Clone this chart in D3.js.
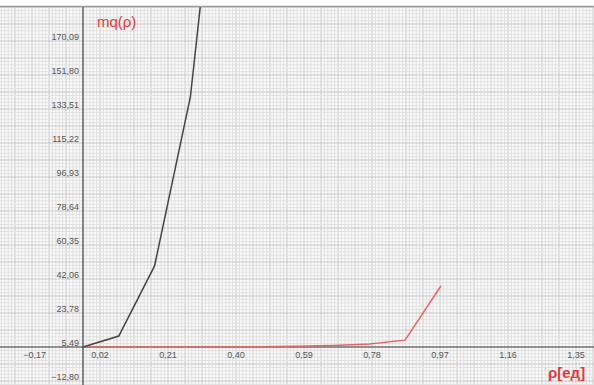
<!DOCTYPE html>
<html>
<head>
<meta charset="utf-8">
<script src="https://cdn.jsdelivr.net/npm/d3@7"></script>
<style>
  html, body { margin: 0; padding: 0; background: #fff; }
  svg { display: block; }
</style>
</head>
<body>
<div id="content"></div>
<script>
// datos
const xTicks = [-0.17, 0.02, 0.21, 0.40, 0.59, 0.78, 0.97, 1.16, 1.35];
const yTicks = [-12.80, 5.49, 23.78, 42.06, 60.35, 78.64, 96.93, 115.22, 133.51, 151.80, 170.09];
const rho = [0, 0.1, 0.2, 0.3, 0.4];
const mqBlack = [0, 5.9, 43.6, 134.5, 310];
const rhoRed = [0, 0.1, 0.2, 0.3, 0.4, 0.5, 0.6, 0.7, 0.8, 0.9, 1.0];
const mqRed = [0, 0, 0, 0.05, 0.1, 0.2, 0.4, 0.8, 1.6, 3.7, 32.8];

const width = 594, height = 385;
const plotTop = 6;

const locale = d3.formatLocale({ decimal: ',', thousands: ' ', grouping: [3], currency: ['', ''] });
const fmt = locale.format('.2f');

const x = d3.scaleLinear().domain([0, 0.19]).range([83, 151]);
const y = d3.scaleLinear().domain([0, 18.29]).range([347, 313]);

const svg = d3.select('#content')
    .append('svg')
    .attr('width', width)
    .attr('height', height);

svg.append('defs').append('clipPath')
    .attr('id', 'plot')
    .append('rect')
    .attr('x', 0).attr('y', plotTop)
    .attr('width', width).attr('height', height - plotTop);

const plot = svg.append('g').attr('clip-path', 'url(#plot)');

plot.append('rect')
    .attr('x', 0).attr('y', plotTop)
    .attr('width', width).attr('height', height - plotTop)
    .attr('fill', '#fbfbfb');

// rejilla fina
const xStep = 0.19 / 20;
const xGrid = d3.range(-60, 200).map(i => i * xStep);
const yStep = 18.29 / 10;
const yGrid = d3.range(-40, 200).map(i => i * yStep);

plot.append('g')
    .selectAll('line')
    .data(xGrid)
    .enter()
    .append('line')
    .attr('x1', d => x(d)).attr('x2', d => x(d))
    .attr('y1', plotTop).attr('y2', height)
    .attr('stroke', (d, i) => i % 5 === 0 ? '#c8c8c8' : '#e0e0e0')
    .attr('stroke-width', 1);

plot.append('g')
    .selectAll('line')
    .data(yGrid)
    .enter()
    .append('line')
    .attr('y1', d => y(d)).attr('y2', d => y(d))
    .attr('x1', 0).attr('x2', width)
    .attr('stroke', (d, i) => i % 5 === 0 ? '#c8c8c8' : '#e0e0e0')
    .attr('stroke-width', 1);

// borde superior
svg.append('line')
    .attr('x1', 0).attr('x2', width)
    .attr('y1', plotTop + 0.5).attr('y2', plotTop + 0.5)
    .attr('stroke', '#9a9a9a')
    .attr('stroke-width', 1.5);

// ejes
plot.append('line')
    .attr('x1', 0).attr('x2', width)
    .attr('y1', y(0)).attr('y2', y(0))
    .attr('stroke', '#444').attr('stroke-width', 1.2);
plot.append('line')
    .attr('x1', x(0)).attr('x2', x(0))
    .attr('y1', plotTop).attr('y2', height)
    .attr('stroke', '#444').attr('stroke-width', 1.2);

// etiquetas de los ejes
svg.append('g')
    .selectAll('text')
    .data(xTicks)
    .enter()
    .append('text')
    .attr('x', d => x(d) + 1)
    .attr('y', y(0) + 11)
    .attr('fill', '#555')
    .style('font-family', 'Arial, "Liberation Sans", sans-serif')
    .style('font-size', '9px')
    .text(d => fmt(d));

svg.append('g')
    .selectAll('text')
    .data(yTicks)
    .enter()
    .append('text')
    .attr('x', x(0) - 4)
    .attr('y', d => y(d) + 9)
    .attr('text-anchor', 'end')
    .attr('fill', '#555')
    .style('font-family', 'Arial, "Liberation Sans", sans-serif')
    .style('font-size', '9px')
    .text(d => fmt(d));

// curvas
const lineBlack = d3.line().x((d, i) => x(rho[i])).y(d => y(d));
const lineRed = d3.line().x((d, i) => x(rhoRed[i])).y(d => y(d));

plot.append('path')
    .attr('d', lineRed(mqRed))
    .attr('fill', 'none')
    .attr('stroke', '#e46464')
    .attr('stroke-width', 1.5);

plot.append('path')
    .attr('d', lineBlack(mqBlack))
    .attr('fill', 'none')
    .attr('stroke', '#444')
    .attr('stroke-width', 1.5);

// titulos
svg.append('text')
    .attr('x', 97)
    .attr('y', 27)
    .attr('fill', '#e03c3c')
    .style('font-family', 'Arial, "Liberation Sans", sans-serif')
    .style('font-size', '15px')
    .text('mq(ρ)');

svg.append('text')
    .attr('x', 548)
    .attr('y', 378)
    .attr('fill', '#e03c3c')
    .style('font-family', 'Arial, "Liberation Sans", sans-serif')
    .style('font-size', '15px')
    .style('font-weight', 'bold')
    .text('ρ[ед]');
</script>
</body>
</html>
